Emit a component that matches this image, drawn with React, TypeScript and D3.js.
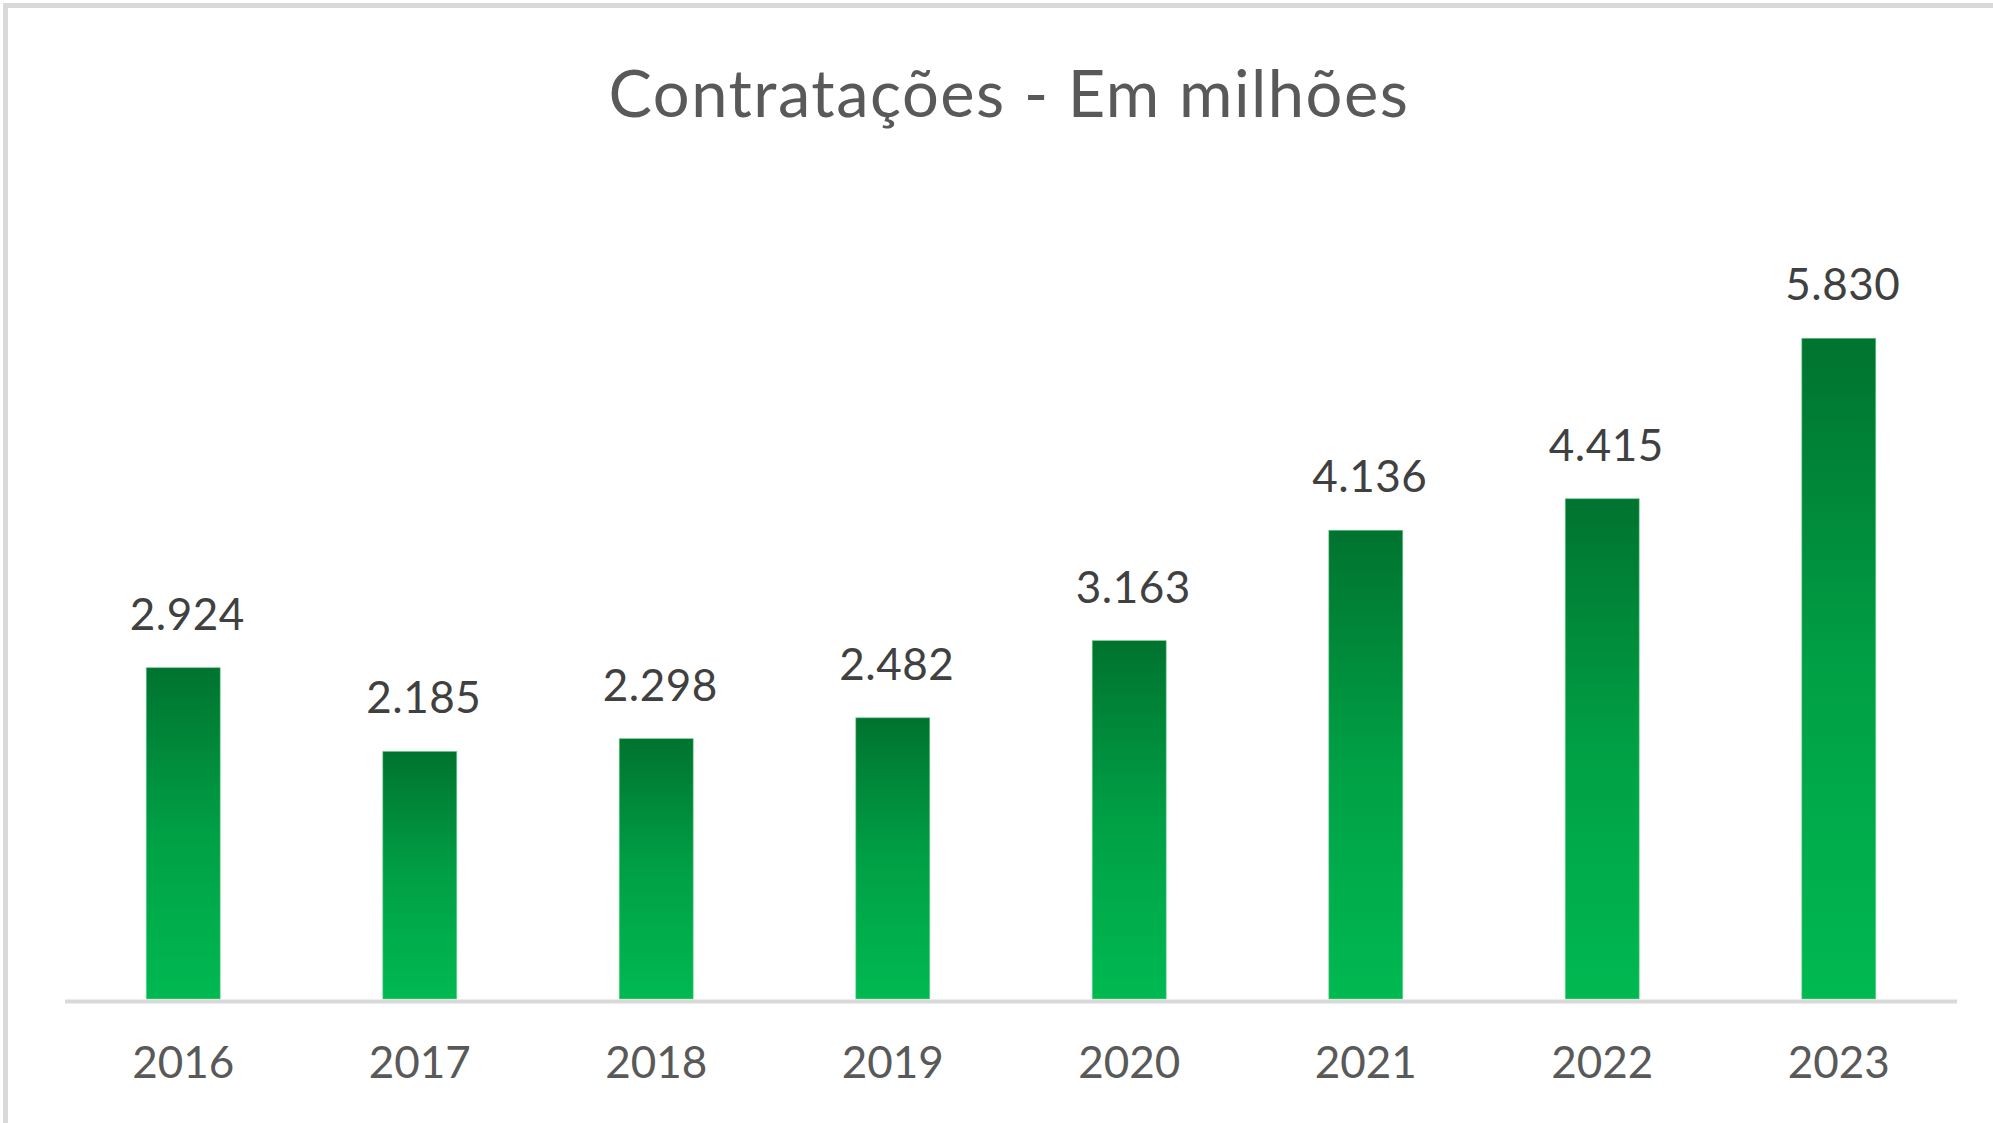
import React from "react";
import * as d3 from "d3";

const years: string[] = ["2016", "2017", "2018", "2019", "2020", "2021", "2022", "2023"];
const values: number[] = [2924, 2185, 2298, 2482, 3163, 4136, 4415, 5830];
const valueLabels: string[] = ["2.924", "2.185", "2.298", "2.482", "3.163", "4.136", "4.415", "5.830"];
const title = "Contratações - Em milhões";

const W = 1993;
const H = 1123;

export default function App() {
  const x = d3.scaleBand<string>().domain(years).range([65, 1957]).paddingInner(0.687).paddingOuter(0.3435);
  const y = d3.scaleLinear().domain([0, 6000]).range([999, 319]);
  const font = "Lato, 'Open Sans', sans-serif";

  return (
    <svg
      width={W}
      height={H}
      style={{ position: "absolute", left: 0, top: 0, display: "block", background: "#fff" }}
    >
      <defs>
        <linearGradient id="barGrad" x1="0" y1="0" x2="0" y2="1">
          <stop offset="0" stopColor="#00732f" />
          <stop offset="0.5" stopColor="#00a045" />
          <stop offset="1" stopColor="#00b951" />
        </linearGradient>
      </defs>
      <rect x={0} y={0} width={W} height={H} fill="#fff" />
      <rect x={5.5} y={5.5} width={W + 20} height={H + 20} fill="none" stroke="#d9d9d9" strokeWidth={5} />
      <text
        x={1009}
        y={117}
        textAnchor="middle"
        fontFamily={font}
        fontSize={65}
        letterSpacing={1.5}
        fill="#595959"
      >
        {title}
      </text>
      {years.map((yr, i) => {
        const bx = x(yr)!;
        const bw = x.bandwidth();
        const top = y(values[i]);
        return (
          <g key={yr}>
            <rect
              x={bx}
              y={top}
              width={bw}
              height={y(0) - top}
              fill="url(#barGrad)"
              stroke="#7fd9a0"
              strokeOpacity={0.55}
              strokeWidth={1}
            />
            <text
              x={bx + bw / 2 + 4}
              y={top - 38}
              textAnchor="middle"
              fontFamily={font}
              fontSize={44}
              letterSpacing={0.5}
              fill="#404040"
            >
              {valueLabels[i]}
            </text>
            <text
              x={bx + bw / 2}
              y={1078}
              textAnchor="middle"
              fontFamily={font}
              fontSize={44}
              fill="#595959"
            >
              {yr}
            </text>
          </g>
        );
      })}
      <line x1={65} x2={1957} y1={1001.5} y2={1001.5} stroke="#d9d9d9" strokeWidth={4} />
    </svg>
  );
}
